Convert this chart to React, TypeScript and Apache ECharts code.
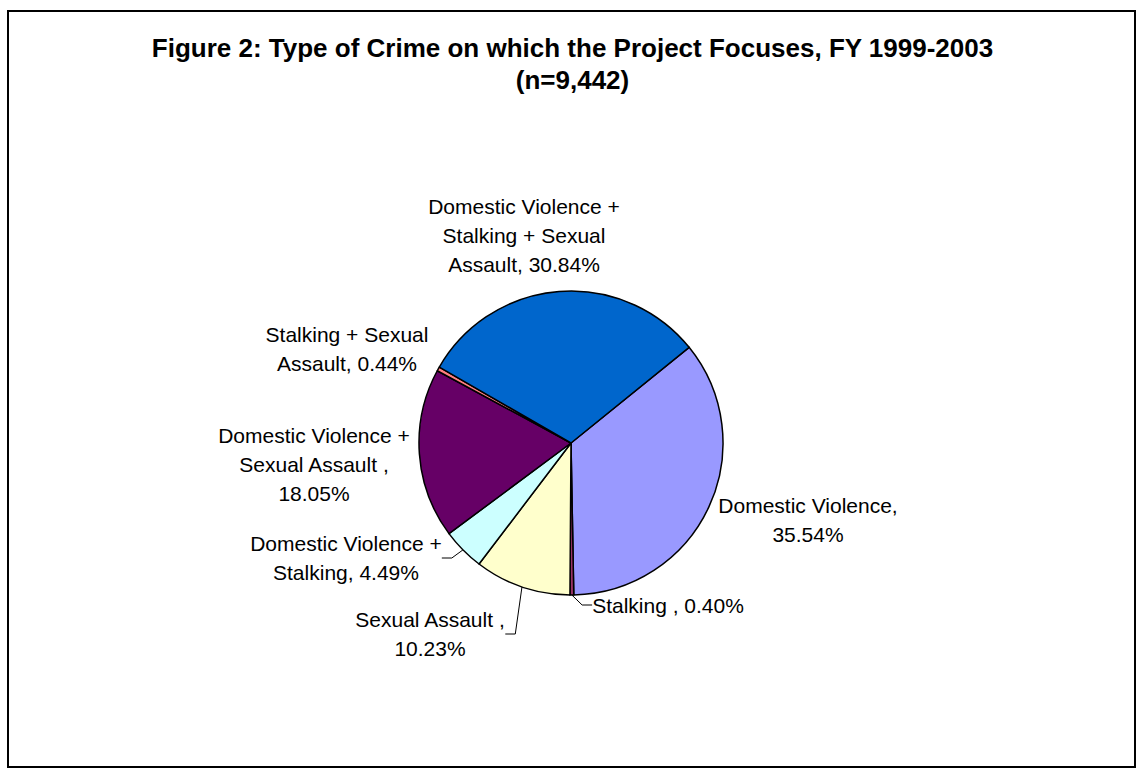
import React, { useEffect, useRef } from 'react';
import * as echarts from 'echarts';

const titleLines = [
  'Figure 2: Type of Crime on which the Project Focuses, FY 1999-2003',
  '(n=9,442)',
];

const categories = [
  'Domestic Violence',
  'Stalking',
  'Sexual Assault',
  'Domestic Violence + Stalking',
  'Domestic Violence + Sexual Assault',
  'Stalking + Sexual Assault',
  'Domestic Violence + Stalking + Sexual Assault',
];

const percents = [35.54, 0.4, 10.23, 4.49, 18.05, 0.44, 30.84];

// label text templates ({v} = percentage)
const labelTemplates = [
  'Domestic Violence,\n{v}',
  'Stalking , {v}',
  'Sexual Assault ,\n{v}',
  'Domestic Violence +\nStalking, {v}',
  'Domestic Violence +\nSexual Assault ,\n{v}',
  'Stalking + Sexual\nAssault, {v}',
  'Domestic Violence +\nStalking + Sexual\nAssault, {v}',
];

const colors = ['#9999FF', '#993366', '#FFFFCC', '#CCFFFF', '#660066', '#FF8080', '#0066CC'];

// layout: label block centres (px) and whether a leader line is drawn
const labelCenters = [
  [808, 520],
  [668, 605],
  [430, 634],
  [346, 558],
  [314, 464],
  [347, 349],
  [524, 235],
];
const leaderLine = [false, true, true, true, false, false, false];

const FONT = "'Liberation Sans', Arial, sans-serif";

export default function App() {
  const ref = useRef<HTMLDivElement>(null);

  useEffect(() => {
    const chart = echarts.init(ref.current as HTMLDivElement, null, { renderer: 'svg' });
    chart.setOption({
      animation: false,
      backgroundColor: '#ffffff',
      graphic: [
        {
          type: 'rect',
          silent: true,
          z: 100,
          shape: { x: 8, y: 11, width: 1127, height: 756 },
          style: { fill: 'none', stroke: '#000', lineWidth: 2 },
        },
        {
          type: 'text',
          silent: true,
          x: 572.5,
          y: 48,
          style: {
            text: titleLines[0],
            align: 'center',
            verticalAlign: 'middle',
            fontFamily: FONT,
            fontSize: 26,
            fontWeight: 'bold',
            fill: '#000',
          },
        },
        {
          type: 'text',
          silent: true,
          x: 572.5,
          y: 80,
          style: {
            text: titleLines[1],
            align: 'center',
            verticalAlign: 'middle',
            fontFamily: FONT,
            fontSize: 26,
            fontWeight: 'bold',
            fill: '#000',
          },
        },
      ],
      series: [
        {
          type: 'pie',
          center: [571, 443],
          radius: 152,
          startAngle: 39,
          clockwise: true,
          avoidLabelOverlap: false,
          silent: true,
          emphasis: { disabled: true },
          itemStyle: { borderColor: '#000', borderWidth: 1.5 },
          label: {
            show: true,
            position: 'outside',
            color: '#000',
            fontFamily: FONT,
            fontSize: 21,
            lineHeight: 29,
            formatter: (p: any) =>
              labelTemplates[p.dataIndex].replace('{v}', Number(p.value).toFixed(2) + '%'),
          },
          labelLine: {
            length: 10,
            length2: 10,
            lineStyle: { color: '#000', width: 1 },
          },
          labelLayout: (params: any) => {
            const c = labelCenters[params.dataIndex];
            return { x: c[0], y: c[1], align: 'center', verticalAlign: 'middle' };
          },
          data: categories.map((name, i) => ({
            name,
            value: percents[i],
            itemStyle: { color: colors[i] },
            labelLine: { show: leaderLine[i] },
          })),
        },
      ],
    });
    return () => chart.dispose();
  }, []);

  return (
    <div
      ref={ref}
      style={{ position: 'absolute', left: 0, top: 0, width: 1136, height: 772 }}
    />
  );
}
